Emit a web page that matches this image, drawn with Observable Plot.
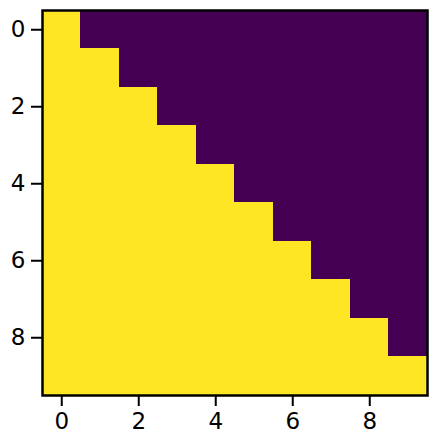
<!DOCTYPE html>
<html>
<head>
<meta charset="utf-8">
<script src="https://cdn.jsdelivr.net/npm/d3@7"></script>
<script src="https://cdn.jsdelivr.net/npm/@observablehq/plot@0.6"></script>
<style>
  html, body { margin: 0; padding: 0; background: #ffffff; }
  #chart svg { display: block; }
</style>
</head>
<body>
<div id="chart"></div>
<script>
const rowIndex = [0, 1, 2, 3, 4, 5, 6, 7, 8, 9];
const colIndex = [0, 1, 2, 3, 4, 5, 6, 7, 8, 9];
const maskRows = [
  [1,0,0,0,0,0,0,0,0,0],
  [1,1,0,0,0,0,0,0,0,0],
  [1,1,1,0,0,0,0,0,0,0],
  [1,1,1,1,0,0,0,0,0,0],
  [1,1,1,1,1,0,0,0,0,0],
  [1,1,1,1,1,1,0,0,0,0],
  [1,1,1,1,1,1,1,0,0,0],
  [1,1,1,1,1,1,1,1,0,0],
  [1,1,1,1,1,1,1,1,1,0],
  [1,1,1,1,1,1,1,1,1,1]
];
const tickValues = [0, 2, 4, 6, 8];

const cells = [];
rowIndex.forEach((r, i) => colIndex.forEach((c, j) => cells.push({row: r, col: c, v: maskRows[i][j]})));

const chart = Plot.plot({
  width: 436,
  height: 445,
  marginLeft: 42,
  marginRight: 9,
  marginTop: 10,
  marginBottom: 50,
  style: {fontFamily: "DejaVu Sans", fontSize: "23px"},
  x: {type: "band", domain: colIndex, padding: 0, round: false, label: null, ticks: tickValues},
  y: {type: "band", domain: rowIndex, padding: 0, round: false, label: null, ticks: tickValues},
  color: {type: "ordinal", domain: [0, 1], range: ["#440154", "#fde725"]},
  marks: [
    Plot.cell(cells, {x: "col", y: "row", fill: d => d.v, stroke: d => d.v, strokeWidth: 1, inset: 0, shapeRendering: "crispEdges"}),
    Plot.frame({stroke: "#000", strokeWidth: 2.5}),
    Plot.axisX({ticks: tickValues, tickSize: 11, tickPadding: 6, strokeWidth: 2, fontSize: 23, label: null}),
    Plot.axisY({ticks: tickValues, tickSize: 11, tickPadding: 6, strokeWidth: 2, fontSize: 23, label: null})
  ]
});
document.getElementById("chart").appendChild(chart);
</script>
</body>
</html>
